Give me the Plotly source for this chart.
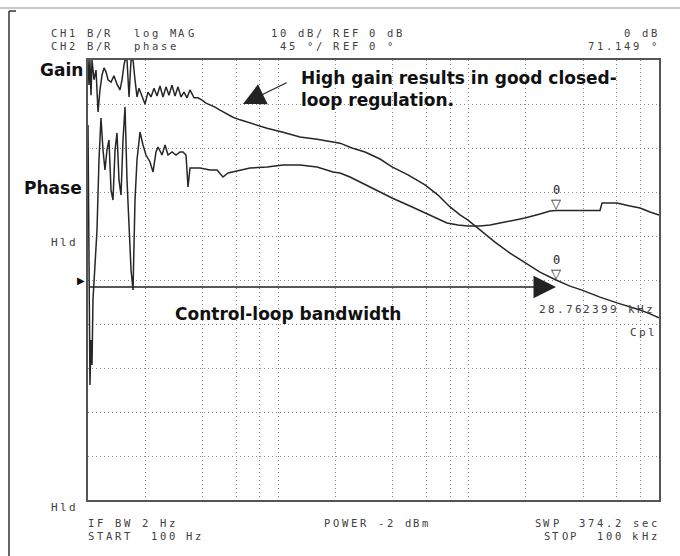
import math
import plotly.graph_objects as go

gain_freq_hz = [100, 101.2, 102.4, 103.7, 105.0, 107.5, 110.2, 112.9, 115.6, 118.5, 121.4, 124.3,
                127.4, 132.1, 136.9, 142.0, 147.3, 150.9, 154.6, 156.5, 160.3, 164.3, 168.3, 172.4,
                176.6, 180.9, 185.3, 192.2, 199.3, 206.7, 214.3, 222.3, 230.5, 238.9, 247.8, 256.9,
                266.4, 276.3, 286.5, 297.1, 308.1, 319.4, 331.3, 343.5, 360.6, 378.4, 397.2, 416.9,
                437.5, 464.8, 493.7, 537.5, 577.8, 629.0, 710.0, 872.0, 1058, 1300, 1597, 1938,
                2109, 2438, 2854, 3421, 3956, 4800, 5896, 6901, 7980, 9005, 9920, 11470, 13750,
                16490, 19770, 23700, 28762, 34070, 39400, 48980, 60180, 70400, 79480, 89700, 100000]
gain_db = [50, 44.3, 50, 42.0, 50, 45.5, 47.7, 38.2, 43.2, 46.6, 48.2, 47.3,
           45.5, 45.0, 46.4, 44.5, 43.2, 45.5, 48.9, 50, 50, 41.6, 50, 50,
           45.5, 41.6, 43.6, 42.0, 40.0, 42.7, 41.6, 43.6, 41.8, 44.1, 41.6, 43.9,
           42.0, 44.3, 41.8, 43.9, 41.6, 42.7, 41.4, 43.2, 41.4, 41.4, 40.9, 40.2,
           39.8, 39.3, 38.6, 37.7, 37.0, 36.4, 35.7, 34.5, 33.6, 32.5, 32.0, 31.4,
           31.1, 30.0, 29.1, 27.5, 25.7, 23.9, 21.6, 19.3, 16.6, 14.8, 13.6, 11.4, 8.6,
           6.1, 3.9, 1.8, 0.0, -1.4, -2.3, -3.9, -5.2, -6.1, -6.8, -7.7, -8.6]

phase_freq_hz = [100, 101.2, 102.4, 103.7, 105.0, 106.2, 108.8, 111.5, 114.2, 117.0, 119.9, 122.8,
                 125.8, 128.9, 132.1, 135.3, 138.7, 142.0, 145.5, 149.1, 152.7, 156.5, 160.3, 164.3,
                 168.3, 172.4, 176.6, 180.9, 187.6, 194.5, 201.7, 211.7, 219.6, 227.7, 233.3, 244.8,
                 254.0, 263.3, 276.3, 290.0, 304.4, 315.6, 327.3, 335.3, 343.5, 365.0, 387.7, 411.9,
                 437.5, 476.2, 512.0, 544.0, 577.8, 629.0, 710.0, 872, 1058, 1300, 1597, 1938,
                 2109, 2381, 2686, 3221, 3956, 4918, 5896, 6819, 7693, 8790, 9920, 11470, 12950,
                 15520, 17520, 19770, 23700, 26760, 28762, 34070, 43410, 48980, 50190, 60180,
                 70400, 79480, 89700, 100000]
phase_deg = [158.5, -20.5, -107.4, -61.4, -86.9, -20.5, 10.2, 51.1, 122.7, 165.7, 133.0, 112.5,
             133.0, 143.2, 92.0, 81.8, 133.0, 150.3, 102.3, 86.9, 143.2, 176.9, 102.3, 51.1,
             10.2, -10.2, 81.8, 122.7, 151.4, 138.1, 127.8, 120.7, 110.5, 130.9, 136.0, 127.8,
             138.1, 127.8, 130.9, 127.8, 130.9, 130.9, 127.8, 95.1, 114.5, 114.5, 114.5, 113.5,
             112.5, 112.5, 105.3, 109.4, 110.5, 112.5, 114.5, 115.6, 117.6, 117.6, 115.6, 110.5,
             109.4, 105.3, 100.2, 92.0, 83.9, 75.7, 68.5, 62.4, 58.3, 56.2, 55.2, 55.2, 56.2,
             59.3, 61.4, 63.4, 67.5, 70.6, 71.149, 71.1, 71.1, 71.1, 78.8, 78.8,
             75.7, 73.6, 69.5, 66.5]

# marker readout
marker_freq_hz = 28762.399
marker_gain_db = 0.0
marker_phase_deg = 71.149
bw_line_db = -1.6

# grid (2, 4, 6, 8, 10 per decade)
grid_freqs = [m * d for d in (100, 1000, 10000) for m in (2, 4, 6, 8, 10)][:-1]

# ---------------- layout helpers ----------------
W, H = 680, 556
L, R, T, B = 88, 659, 60, 500
PITCH = 8.9  # instrument character cell width


def px(x):
    return (x - L) / (R - L)


def py(y):
    return (B - y) / (B - T)


MONO = "DejaVu Sans Mono"
BOLD = "DejaVu Sans"
TXT = "#404040"

fig = go.Figure()
fig.add_trace(go.Scatter(x=gain_freq_hz, y=gain_db, mode="lines",
                         line=dict(color="#262626", width=1.5), yaxis="y", showlegend=False))
fig.add_trace(go.Scatter(x=phase_freq_hz, y=phase_deg, mode="lines",
                         line=dict(color="#262626", width=1.5), yaxis="y2", showlegend=False))

ann = []


def cells(text, x, y, anchor="left", size=10.5):
    """Instrument-style text: one glyph per fixed-width character cell."""
    left = x if anchor == "left" else x - len(text) * PITCH
    for i, ch in enumerate(text):
        if ch == " ":
            continue
        ann.append(dict(text=ch, x=px(left + (i + 0.5) * PITCH), y=py(y),
                        xref="paper", yref="paper", xanchor="center", yanchor="middle",
                        showarrow=False, font=dict(family=MONO, size=size, color=TXT)))


def bold(text, x, y, anchor="left", size=17):
    ann.append(dict(text="<b>%s</b>" % text, x=px(x), y=py(y), xref="paper", yref="paper",
                    xanchor=anchor, yanchor="middle", showarrow=False,
                    font=dict(family=BOLD, size=size, color="#111")))


# header
cells("CH1 B/R", 50, 33.5); cells("log MAG", 133, 33.5)
cells("10 dB/ REF 0 dB", 270, 33.5); cells("0 dB", 658, 33.5, "right")
cells("CH2 B/R", 50, 46.5); cells("phase", 133, 46.5)
cells(" 45 °/ REF 0 °", 270, 46.5); cells("71.149 °", 658, 46.5, "right")
# footer
cells("IF BW 2 Hz", 87, 522.5)
cells("START  100 Hz", 87, 536)
cells("POWER -2 dBm", 323, 522.5)
cells("SWP  374.2 sec", 658, 522.5, "right")
cells("STOP  100 kHz", 658, 536, "right")
# side
cells("Hld", 50, 242, size=11); cells("Hld", 50, 507, size=11)
cells("28.762399 kHz", 538, 309, size=11)
cells("Cpl", 656, 332, "right", size=11)

bold("Gain", 85, 70, "right")
bold("Phase", 84, 188, "right")
bold("High gain results in good closed-", 299, 78)
bold("loop regulation.", 299, 100)
bold("Control-loop bandwidth", 173, 314)

# reference pointer
ann.append(dict(text="▶", x=px(87), y=marker_gain_db, xref="paper", yref="y",
                xanchor="right", yanchor="middle", showarrow=False,
                font=dict(family=BOLD, size=10, color="#111")))

# markers on traces
mx = math.log10(marker_freq_hz)
for val, yr in ((marker_gain_db, "y"), (marker_phase_deg, "y2")):
    ann.append(dict(text="▽", x=mx, y=val, xref="x", yref=yr, xanchor="center",
                    yanchor="bottom", yshift=-3, showarrow=False,
                    font=dict(family=BOLD, size=13, color="#222")))
    ann.append(dict(text="0", x=mx, y=val, xref="x", yref=yr, xanchor="center",
                    yanchor="bottom", yshift=11, showarrow=False,
                    font=dict(family=MONO, size=12, color="#222")))

# bandwidth arrow
ann.append(dict(text="", x=mx, y=bw_line_db, xref="x", yref="y",
                ax=2.0, ay=bw_line_db, axref="x", ayref="y",
                showarrow=True, arrowhead=2, arrowsize=3.0, arrowwidth=1.5,
                arrowcolor="#222"))
# gain pointer arrow
ann.append(dict(text="", x=px(243), y=py(104), xref="paper", yref="paper",
                ax=45, ay=-22, showarrow=True, arrowhead=2, arrowsize=3.4,
                arrowwidth=1.3, arrowcolor="#222"))

shapes = [
    dict(type="line", xref="paper", yref="paper", x0=px(0), x1=px(680), y0=py(8), y1=py(8),
         line=dict(color="#b5b5b5", width=1.5)),
    dict(type="line", xref="paper", yref="paper", x0=px(9), x1=px(9), y0=py(11), y1=py(560),
         line=dict(color="#333", width=1.5)),
    dict(type="line", xref="paper", yref="paper", x0=px(9), x1=px(16), y0=py(11), y1=py(11),
         line=dict(color="#333", width=1.5)),
]

fig.update_layout(
    width=W, height=H,
    margin=dict(l=L, r=W - R, t=T, b=H - B),
    paper_bgcolor="white", plot_bgcolor="white",
    showlegend=False,
    annotations=ann, shapes=shapes,
    xaxis=dict(type="log", range=[2, 5], tickvals=grid_freqs, showticklabels=False,
               ticks="", showgrid=True, gridcolor="#8a8a8a", gridwidth=1,
               griddash="1px,3px", zeroline=False,
               showline=True, mirror=True, linecolor="#555", linewidth=2),
    yaxis=dict(range=[-50, 50], dtick=10, showticklabels=False, ticks="",
               showgrid=True, gridcolor="#8a8a8a", gridwidth=1, griddash="1px,3px",
               zeroline=False, showline=True, mirror=True, linecolor="#555", linewidth=2),
    yaxis2=dict(range=[-225, 225], overlaying="y", showticklabels=False, ticks="",
                showgrid=False, zeroline=False, showline=False),
)

fig.write_html("out.html", config={"displayModeBar": False},
               post_script="document.body.style.margin='0';document.body.style.overflow='hidden';")
